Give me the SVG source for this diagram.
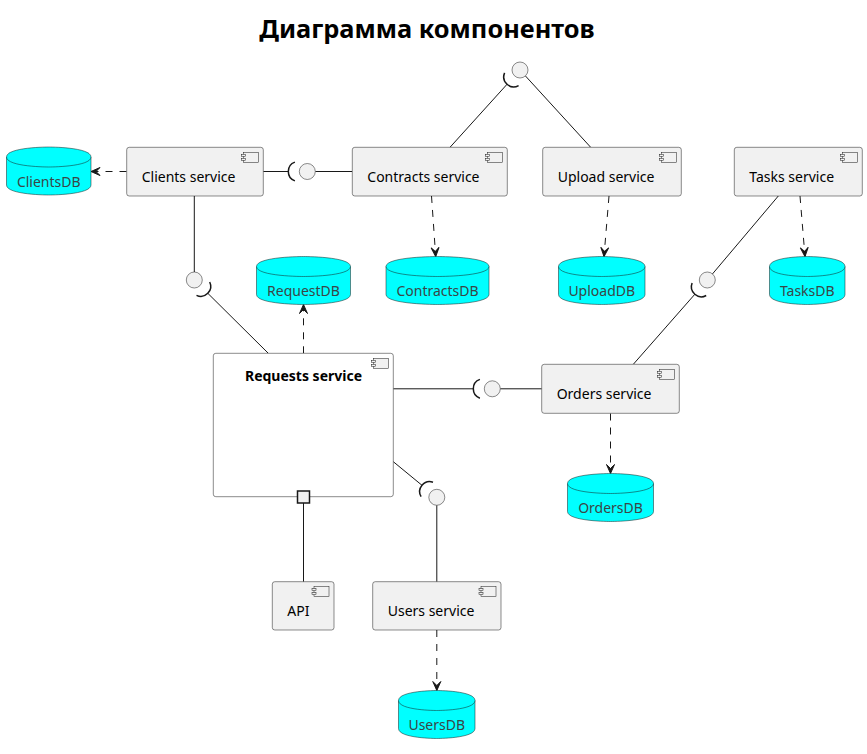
<svg xmlns="http://www.w3.org/2000/svg" width="867" height="754" viewBox="0 0 867 754">
  <style>
    .comp { fill: #F1F1F1; stroke: #181818; stroke-width: 0.5; }
    .icon { fill: #F1F1F1; stroke: #181818; stroke-width: 0.5; }
    .db { fill: #00FFFF; stroke: #181818; stroke-width: 0.5; }
    .iface { fill: #F1F1F1; stroke: #181818; stroke-width: 0.5; }
    .label { font-family: "Noto Sans", "Open Sans", sans-serif; font-size: 14px; fill: #000000; }
    .bold { font-weight: bold; }
    .dblabel { font-family: "Noto Sans", "Open Sans", sans-serif; font-size: 14px; fill: #3A4646; text-anchor: middle; }
    .title { font-family: "Noto Sans", "Open Sans", sans-serif; font-size: 25.4px; font-weight: bold; fill: #000000; text-anchor: middle; }
    .link { fill: none; stroke: #181818; stroke-width: 1; }
    .dep { fill: none; stroke: #181818; stroke-width: 1; stroke-dasharray: 7,7; marker-end: url(#arrow); }
    .socket { fill: none; stroke: #181818; stroke-width: 1.5; }
    .port { fill: #F1F1F1; stroke: #181818; stroke-width: 1.5; }
  </style>
  <defs>
    <marker id="arrow" viewBox="-10 -5 11 10" refX="0" refY="0" markerWidth="11" markerHeight="10" markerUnits="userSpaceOnUse" orient="auto">
      <path d="M0,0 L-9,-4 L-5,0 L-9,4 Z" fill="#181818" stroke="#181818" stroke-width="1" stroke-dasharray="none"/>
    </marker>
    <g id="cicon">
      <rect x="-20" y="5" width="15" height="10"/>
      <rect x="-22" y="7" width="4" height="2"/>
      <rect x="-22" y="11" width="4" height="2"/>
    </g>
  </defs>

  <rect width="867" height="754" fill="#FFFFFF"/>

  <text class="title" x="427" y="38">Диаграмма компонентов</text>

  <!-- connectors -->
  <g id="connectors">
    <!-- dependencies on databases -->
    <path class="dep" d="M126.5,171.5 L91,171.5"/>
    <path class="dep" d="M431.5,196 L435.7,256.5"/>
    <path class="dep" d="M609,196 L604,256.5"/>
    <path class="dep" d="M800,196 L805,256.5"/>
    <path class="dep" d="M303.5,353.3 L303.5,304.5"/>
    <path class="dep" d="M610.5,413.5 L610.5,473.5"/>
    <path class="dep" d="M436.8,630 L436.8,690.5"/>

    <!-- Clients -> Contracts interface -->
    <path class="link" d="M263.3,171.5 L288.3,171.5"/>
    <path class="socket" d="M294.9,162.1 A10,10 0 0,0 294.9,180.9"/>
    <path class="link" d="M315.3,171.5 L352.3,171.5"/>

    <!-- Contracts -> Upload interface -->
    <path class="link" d="M450,147.3 L507.2,84.1"/>
    <path class="socket" d="M504.6,72.9 A10,10 0 0,0 518.6,85.6"/>
    <path class="link" d="M525.4,75.9 L590.7,147.3"/>

    <!-- Requests -> Clients interface -->
    <path class="link" d="M194.3,196 L194.3,272"/>
    <path class="socket" d="M196.5,295.4 A10,10 0 0,0 209.7,282"/>
    <path class="link" d="M207.8,293.3 L268.3,353.3"/>

    <!-- Requests -> Orders interface -->
    <path class="link" d="M393.3,388.8 L473.3,388.8"/>
    <path class="socket" d="M479.9,379.4 A10,10 0 0,0 479.9,398.2"/>
    <path class="link" d="M500.3,388.8 L541.7,388.8"/>

    <!-- Requests -> Users interface -->
    <path class="link" d="M393.3,461.7 L422,485.3"/>
    <path class="socket" d="M433,482.2 A10,10 0 0,0 421.1,496.7"/>
    <path class="link" d="M436.8,505.3 L436.8,581.7"/>

    <!-- Orders -> Tasks interface -->
    <path class="link" d="M778.3,196 L712.5,273.9"/>
    <path class="socket" d="M692.1,283.1 A10,10 0 0,0 706.2,295.5"/>
    <path class="link" d="M694.8,294.3 L633.3,364.3"/>

    <!-- Requests port -> API -->
    <path class="link" d="M303.5,503 L303.5,581.7"/>
  </g>

  <!-- interfaces -->
  <g id="iface_contracts"><circle class="iface" cx="307.3" cy="171.5" r="8"/></g>
  <g id="iface_upload"><circle class="iface" cx="520" cy="70" r="8"/></g>
  <g id="iface_clients"><circle class="iface" cx="194.3" cy="280" r="8"/></g>
  <g id="iface_orders"><circle class="iface" cx="492.3" cy="388.8" r="8"/></g>
  <g id="iface_users"><circle class="iface" cx="436.8" cy="497.3" r="8"/></g>
  <g id="iface_tasks"><circle class="iface" cx="707.3" cy="280" r="8"/></g>

  <!-- databases -->
  <g id="ClientsDB">
    <path class="db" d="M6.5,157 C6.5,147 48.75,147 48.75,147 C48.75,147 91,147 91,157 L91,185 C91,195 48.75,195 48.75,195 C48.75,195 6.5,195 6.5,185 Z"/>
    <path class="db" d="M6.5,157 C6.5,167 48.75,167 48.75,167 C48.75,167 91,167 91,157"/>
    <text class="dblabel" x="48.75" y="186.5">ClientsDB</text>
  </g>
  <g id="RequestDB">
    <path class="db" d="M256.5,266.5 C256.5,256.5 303.5,256.5 303.5,256.5 C303.5,256.5 350.5,256.5 350.5,266.5 L350.5,294.5 C350.5,304.5 303.5,304.5 303.5,304.5 C303.5,304.5 256.5,304.5 256.5,294.5 Z"/>
    <path class="db" d="M256.5,266.5 C256.5,276.5 303.5,276.5 303.5,276.5 C303.5,276.5 350.5,276.5 350.5,266.5"/>
    <text class="dblabel" x="303.5" y="295.5">RequestDB</text>
  </g>
  <g id="ContractsDB">
    <path class="db" d="M386,266.5 C386,256.5 437.5,256.5 437.5,256.5 C437.5,256.5 489,256.5 489,266.5 L489,294.5 C489,304.5 437.5,304.5 437.5,304.5 C437.5,304.5 386,304.5 386,294.5 Z"/>
    <path class="db" d="M386,266.5 C386,276.5 437.5,276.5 437.5,276.5 C437.5,276.5 489,276.5 489,266.5"/>
    <text class="dblabel" x="437.5" y="295.5">ContractsDB</text>
  </g>
  <g id="UploadDB">
    <path class="db" d="M558.5,266.5 C558.5,256.5 601.75,256.5 601.75,256.5 C601.75,256.5 645,256.5 645,266.5 L645,294.5 C645,304.5 601.75,304.5 601.75,304.5 C601.75,304.5 558.5,304.5 558.5,294.5 Z"/>
    <path class="db" d="M558.5,266.5 C558.5,276.5 601.75,276.5 601.75,276.5 C601.75,276.5 645,276.5 645,266.5"/>
    <text class="dblabel" x="601.75" y="295.5">UploadDB</text>
  </g>
  <g id="TasksDB">
    <path class="db" d="M769.5,266.5 C769.5,256.5 807.25,256.5 807.25,256.5 C807.25,256.5 845,256.5 845,266.5 L845,294.5 C845,304.5 807.25,304.5 807.25,304.5 C807.25,304.5 769.5,304.5 769.5,294.5 Z"/>
    <path class="db" d="M769.5,266.5 C769.5,276.5 807.25,276.5 807.25,276.5 C807.25,276.5 845,276.5 845,266.5"/>
    <text class="dblabel" x="807.25" y="295.5">TasksDB</text>
  </g>
  <g id="OrdersDB">
    <path class="db" d="M567.5,483.5 C567.5,473.5 610.5,473.5 610.5,473.5 C610.5,473.5 653.5,473.5 653.5,483.5 L653.5,511.5 C653.5,521.5 610.5,521.5 610.5,521.5 C610.5,521.5 567.5,521.5 567.5,511.5 Z"/>
    <path class="db" d="M567.5,483.5 C567.5,493.5 610.5,493.5 610.5,493.5 C610.5,493.5 653.5,493.5 653.5,483.5"/>
    <text class="dblabel" x="610.5" y="512.5">OrdersDB</text>
  </g>
  <g id="UsersDB">
    <path class="db" d="M398.5,700.5 C398.5,690.5 436.75,690.5 436.75,690.5 C436.75,690.5 475,690.5 475,700.5 L475,728.5 C475,738.5 436.75,738.5 436.75,738.5 C436.75,738.5 398.5,738.5 398.5,728.5 Z"/>
    <path class="db" d="M398.5,700.5 C398.5,710.5 436.75,710.5 436.75,710.5 C436.75,710.5 475,710.5 475,700.5"/>
    <text class="dblabel" x="436.75" y="729.5">UsersDB</text>
  </g>

  <!-- components -->
  <g id="ClientsService">
    <rect class="comp" x="126.7" y="147.3" width="136.6" height="48.7" rx="2.5" ry="2.5"/>
    <use href="#cicon" class="icon" transform="translate(263.3,147.3)"/>
    <text class="label" x="141.7" y="181.7">Clients service</text>
  </g>
  <g id="ContractsService">
    <rect class="comp" x="352.3" y="147.3" width="155" height="48.7" rx="2.5" ry="2.5"/>
    <use href="#cicon" class="icon" transform="translate(507.3,147.3)"/>
    <text class="label" x="367.3" y="181.7">Contracts service</text>
  </g>
  <g id="UploadService">
    <rect class="comp" x="542.7" y="147.3" width="138.6" height="48.7" rx="2.5" ry="2.5"/>
    <use href="#cicon" class="icon" transform="translate(681.3,147.3)"/>
    <text class="label" x="557.7" y="181.7">Upload service</text>
  </g>
  <g id="TasksService">
    <rect class="comp" x="734.3" y="147.3" width="128" height="48.7" rx="2.5" ry="2.5"/>
    <use href="#cicon" class="icon" transform="translate(862.3,147.3)"/>
    <text class="label" x="749.3" y="181.7">Tasks service</text>
  </g>
  <g id="RequestsService">
    <rect class="comp" x="213.3" y="353.3" width="180" height="143.4" rx="2.5" ry="2.5" style="fill:#FFFFFF"/>
    <use href="#cicon" class="icon" transform="translate(393.3,353.3)"/>
    <text class="label bold" x="303.5" y="381" text-anchor="middle">Requests service</text>
    <rect class="port" x="297.5" y="491" width="12" height="12"/>
  </g>
  <g id="OrdersService">
    <rect class="comp" x="541.7" y="364.3" width="137.6" height="49" rx="2.5" ry="2.5"/>
    <use href="#cicon" class="icon" transform="translate(679.3,364.3)"/>
    <text class="label" x="556.7" y="398.5">Orders service</text>
  </g>
  <g id="API">
    <rect class="comp" x="272.3" y="581.7" width="61.7" height="48.3" rx="2.5" ry="2.5"/>
    <use href="#cicon" class="icon" transform="translate(334,581.7)"/>
    <text class="label" x="287.3" y="615.5">API</text>
  </g>
  <g id="UsersService">
    <rect class="comp" x="372.7" y="581.7" width="128.3" height="48.3" rx="2.5" ry="2.5"/>
    <use href="#cicon" class="icon" transform="translate(501,581.7)"/>
    <text class="label" x="387.7" y="615.5">Users service</text>
  </g>
</svg>
